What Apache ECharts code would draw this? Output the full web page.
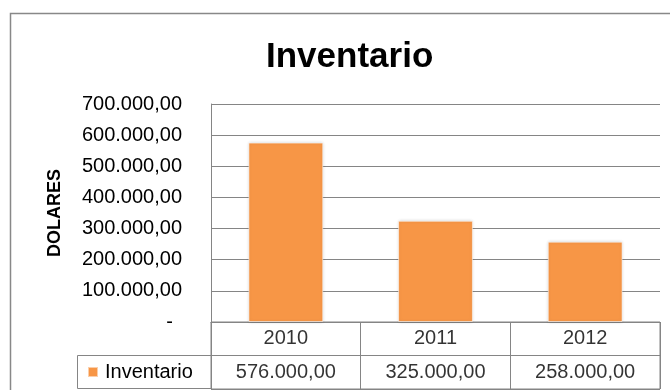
<!DOCTYPE html>
<html>
<head>
<meta charset="utf-8">
<script src="https://cdn.jsdelivr.net/npm/echarts@6/dist/echarts.min.js"></script>
<style>
  html, body { margin: 0; padding: 0; background: #ffffff; }
  #chart { width: 670px; height: 390px; }
</style>
</head>
<body>
<div id="chart"></div>
<script>
// Inventory value per year (USD)
const categories = ['2010', '2011', '2012'];
const inventario = [576000, 325000, 258000];
const seriesName = 'Inventario';
const axisMin = 0;
const axisMax = 700000;
const axisStep = 100000;
const tableRows = ['valores', 'anios'];

const FONT = "'Liberation Sans', Arial, sans-serif";
const GRID_GRAY = '#858585';
const BAR_ORANGE = '#F79646';

// 576000 -> "576.000,00"
function fmtEs(v) {
  const int = Math.round(v).toString().replace(/\B(?=(\d{3})+(?!\d))/g, '.');
  return int + ',00';
}

const chart = echarts.init(document.getElementById('chart'), null, { renderer: 'canvas' });

const option = {
  backgroundColor: '#ffffff',
  animation: false,
  title: {
    text: 'Inventario',
    left: 261,
    top: 35,
    textStyle: { fontFamily: FONT, fontSize: 35, fontWeight: 'bold', color: '#000000' }
  },
  legend: {
    data: [seriesName],
    left: 82,
    top: 357,
    icon: 'rect',
    itemWidth: 10,
    itemHeight: 10,
    selectedMode: false,
    textStyle: { fontFamily: FONT, fontSize: 20, color: '#000000', padding: [0, 0, 0, 2] }
  },
  grid: [
    { left: 211, right: 10, top: 104, bottom: 68, containLabel: false },
    { left: 211, right: 10, top: 322, bottom: 1, show: true, borderColor: GRID_GRAY, borderWidth: 1 }
  ],
  xAxis: [
    {
      type: 'category', gridIndex: 0, data: categories, boundaryGap: true,
      axisLine: { show: true, lineStyle: { color: GRID_GRAY, width: 1 } },
      axisTick: { show: false }, axisLabel: { show: false }, splitLine: { show: false }
    },
    {
      type: 'category', gridIndex: 1, data: categories, boundaryGap: true,
      axisLine: { show: false }, axisTick: { show: false }, axisLabel: { show: false },
      splitLine: { show: true, lineStyle: { color: GRID_GRAY, width: 1 } }
    }
  ],
  yAxis: [
    {
      type: 'value', gridIndex: 0, min: axisMin, max: axisMax, interval: axisStep,
      name: 'DOLARES', nameLocation: 'middle', nameRotate: 90, nameGap: 147,
      nameTextStyle: { fontFamily: FONT, fontSize: 18, fontWeight: 'bold', color: '#000000' },
      axisLine: { show: true, lineStyle: { color: GRID_GRAY, width: 1 } },
      axisTick: { show: false },
      splitLine: { show: true, lineStyle: { color: GRID_GRAY, width: 1 } },
      axisLabel: {
        margin: 29, fontFamily: FONT, fontSize: 20, color: '#000000',
        formatter: v => (v === 0 ? '{z|-}' : fmtEs(v)),
        rich: { z: { fontFamily: FONT, fontSize: 20, color: '#000000', padding: [0, 9, 0, 0] } }
      }
    },
    {
      type: 'category', gridIndex: 1, data: tableRows, boundaryGap: true,
      axisLine: { show: false }, axisTick: { show: false }, axisLabel: { show: false },
      splitLine: { show: true, lineStyle: { color: GRID_GRAY, width: 1 } }
    }
  ],
  graphic: [
    // outer chart frame
    { type: 'rect', shape: { x: 10.5, y: 13.5, width: 720, height: 420 },
      style: { fill: 'none', stroke: '#888888', lineWidth: 1.5 }, silent: true, z: 0 },
    // legend-key cell of the data table
    { type: 'polyline', shape: { points: [[211, 355.5], [77.5, 355.5], [77.5, 388.5], [211, 388.5]] },
      style: { fill: 'none', stroke: GRID_GRAY, lineWidth: 1 }, silent: true, z: 1 }
  ],
  series: [
    {
      name: seriesName,
      type: 'bar',
      xAxisIndex: 0, yAxisIndex: 0,
      data: inventario,
      barWidth: '50%',
      itemStyle: {
        color: BAR_ORANGE,
        borderColor: 'rgba(255,255,255,0.55)', borderWidth: 1,
        shadowColor: 'rgba(0,0,0,0.18)', shadowBlur: 3
      },
      z: 3
    },
    {
      // year row of the data table
      name: 'anios',
      type: 'scatter',
      xAxisIndex: 1, yAxisIndex: 1,
      symbolSize: 0,
      silent: true,
      data: categories.map(c => [c, 'anios']),
      label: {
        show: true, position: 'inside', fontFamily: FONT, fontSize: 20, color: '#000000',
        formatter: p => p.value[0]
      }
    },
    {
      // value row of the data table
      name: 'valores',
      type: 'scatter',
      xAxisIndex: 1, yAxisIndex: 1,
      symbolSize: 0,
      silent: true,
      data: inventario.map((v, i) => [categories[i], 'valores', v]),
      label: {
        show: true, position: 'inside', fontFamily: FONT, fontSize: 20, color: '#000000',
        formatter: p => fmtEs(p.value[2])
      }
    }
  ]
};

chart.setOption(option);
</script>
</body>
</html>
